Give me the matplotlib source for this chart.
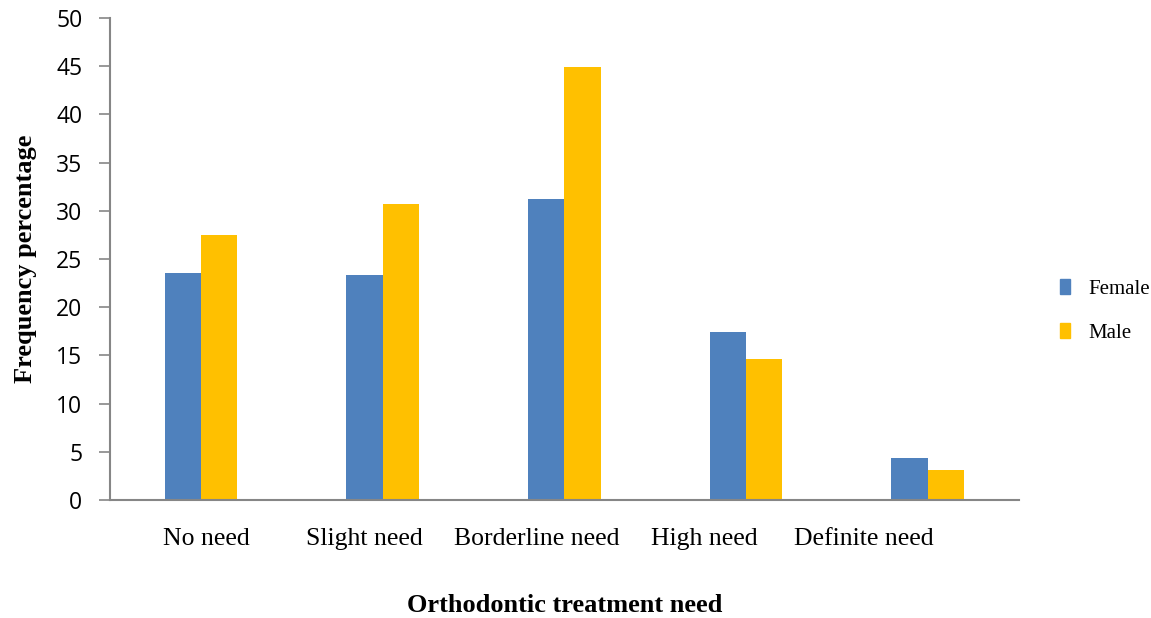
import numpy as np
import matplotlib.pyplot as plt
from matplotlib.patches import Patch

categories = ['No need', 'Slight need', 'Borderline need', 'High need', 'Definite need']
female = [23.5, 23.3, 31.2, 17.4, 4.4]
male = [27.5, 30.7, 44.9, 14.6, 3.1]
series_names = ['Female', 'Male']
y_ticks = [0, 5, 10, 15, 20, 25, 30, 35, 40, 45, 50]

blue = '#4F81BD'
gold = '#FFC000'
grey = '#868686'

# category labels in the original sit a bit left of their bar groups
label_shift = [0.03, -0.10, -0.15, -0.23, -0.35]

fig = plt.figure(figsize=(11.51, 6.18), dpi=100)
ax = fig.add_axes([0.0956, 0.191, 0.7894, 0.78])

x = np.arange(len(categories))
w = 0.2
ax.bar(x - w/2, female, w, color=blue, label=series_names[0])
ax.bar(x + w/2, male, w, color=gold, label=series_names[1])

ax.set_xlim(-0.5, len(categories) - 0.5)
ax.set_ylim(0, 50)
ax.set_yticks(y_ticks)
ax.set_xticks(x + np.array(label_shift))
ax.set_xticklabels(categories, family='Liberation Serif', fontsize=18.5)
ax.tick_params(axis='x', length=0, pad=20)
ax.tick_params(axis='y', length=8, color=grey, width=1.2, labelsize=16.5, pad=12)
for lab in ax.get_yticklabels():
    lab.set_family('Open Sans')

for s in ['top', 'right']:
    ax.spines[s].set_visible(False)
for s in ['left', 'bottom']:
    ax.spines[s].set_color(grey)
    ax.spines[s].set_linewidth(1.5)

ax.set_ylabel('Frequency percentage', family='Liberation Serif', fontweight='bold',
              fontsize=19, labelpad=14)
ax.set_xlabel('Orthodontic treatment need', family='Liberation Serif', fontweight='bold',
              fontsize=19)
ax.xaxis.set_label_coords(0.5, -0.218)
ax.xaxis.label.set_va('center')

handles = [Patch(color=blue), Patch(color=gold)]
leg = fig.legend(handles, series_names, loc='center left', bbox_to_anchor=(0.914, 0.497),
                 frameon=False, prop={'family': 'Liberation Serif', 'size': 15},
                 handlelength=0.45, handleheight=0.75, labelspacing=1.15,
                 handletextpad=0.9, borderaxespad=0)

fig.savefig('out.png', dpi=100)
